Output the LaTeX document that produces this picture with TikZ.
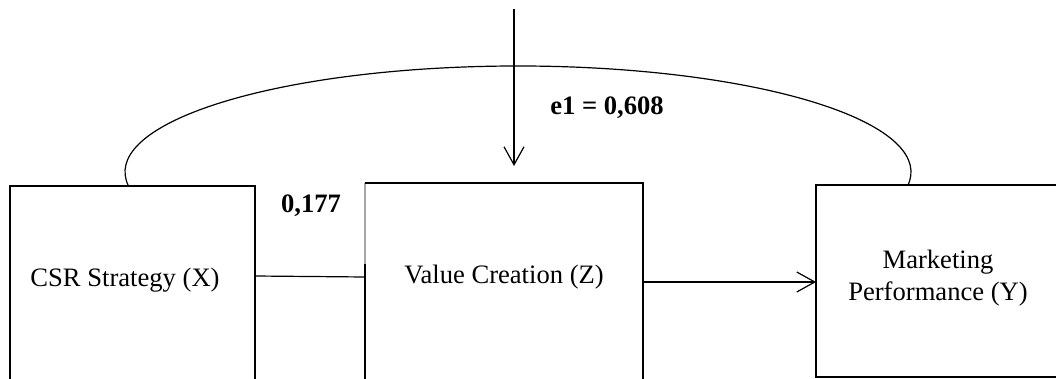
\documentclass[tikz,border=0pt]{standalone}
\usepackage{fontspec}
\setmainfont{Liberation Serif}
\usetikzlibrary{arrows.meta,calc}
\begin{document}
\begin{tikzpicture}[x=1pt,y=1pt,
  line width=1.2pt,
  box/.style={draw=none,minimum width=#1,inner sep=0pt,outer sep=0pt},
  txt/.style={font=\fontsize{26.6}{32}\selectfont,inner sep=0pt},
  lbl/.style={font=\fontsize{26.6}{32}\selectfont\bfseries,inner sep=0pt,anchor=base},
  arr/.style={-{Straight Barb[length=18pt,width=20pt,line width=1.2pt]}}
]
\useasboundingbox (0,0) rectangle (1056,378);
\clip (0,0) rectangle (1056,378);
% boxes
\node[box=245pt,minimum height=214pt] (L) at (132.5,85) {};
\node[box=278pt,minimum height=217pt] (M) at (504,86.5) {};
\node[box=246pt,minimum height=192pt] (R) at (939,97) {};
\draw (L.south west) -- (L.north west) -- (L.north east) -- (L.south east);
\draw[gray!70] (M.north west) -- ([yshift=-81pt]M.north west);
\draw ([yshift=-81pt]M.north west) -- (M.south west);
\draw (M.north west) -- (M.north east) -- (M.south east);
\draw (R.north east) -- (R.north west) -- (R.south west) -- (R.south east);
% texts
\node[txt,anchor=base] (tL) at (125,92) {CSR Strategy (X)};
\node[txt,anchor=base] (tM) at (504,94.7) {Value Creation (Z)};
\node[txt,align=center] (tR) at (938,99.5) {Marketing\\Performance (Y)};
\node[lbl] (w1) at (311,165.3) {0,177};
\node[lbl] (e1) at (607,263.7) {e1 = 0,608};
% connectors
\draw ([yshift=-90pt]L.north east) -- ([yshift=-94pt]M.north west);
\draw[arr] ([yshift=-99pt]M.north east) -- ([yshift=-97pt]R.north west);
\coordinate (etop) at (514,369);
\coordinate (eend) at (514,212);
\draw[arr] (etop) -- (eend);
\draw ([xshift=-4pt]L.north) arc[start angle=187.6,end angle=-7.6,x radius=393,y radius=106];
\end{tikzpicture}
\end{document}
